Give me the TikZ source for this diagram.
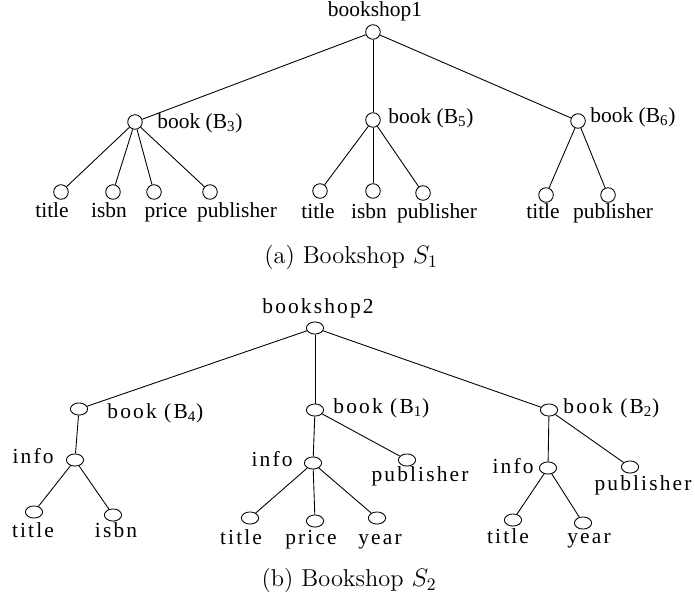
\documentclass[tikz,border=0pt]{standalone}
\usepackage{fontspec}
\usetikzlibrary{calc,shapes.geometric}
\newfontfamily\treefont{Liberation Serif}
\newfontfamily\widefont[LetterSpace=10]{Liberation Serif}

\begin{document}
\begin{tikzpicture}[x=0.02cm,y=-0.02cm,line width=0.5pt,
    leaf/.style={circle,draw,inner sep=0pt,minimum size=8.3pt},
    oval/.style={ellipse,draw,inner sep=0pt,minimum width=9.8pt,minimum height=6.9pt},
    tag/.style={inner sep=0pt,anchor=mid,font=\treefont\fontsize{12.2}{14}\selectfont},
    wtag/.style={inner sep=0pt,anchor=mid,font=\widefont\fontsize{12.2}{14}\selectfont},
    capt/.style={inner sep=0pt,anchor=mid,font=\fontsize{13.9}{16}\selectfont}]

    \useasboundingbox (0,0) rectangle (695,601);

    % (a) bookshop 1
    \node (1) [leaf] at (373,32) {};
    \node (2) [leaf] at ($(1)+(-238,90)$) {};
    \node (3) [leaf] at ($(1)+(0,88)$) {};
    \node (4) [leaf] at ($(1)+(205,89)$) {};

    \node (5) [leaf] at ($(2)+(-74,70)$) {};
    \node (6) [leaf] at ($(2)+(-22,70)$) {};
    \node (7) [leaf] at ($(2)+(19,70)$) {};
    \node (8) [leaf] at ($(2)+(75,70)$) {};

    \node (9) [leaf] at ($(3)+(-53,71)$) {};
    \node (10) [leaf] at ($(3)+(0,71)$) {};
    \node (11) [leaf] at ($(3)+(50,73)$) {};

    \node (12) [leaf] at ($(4)+(-32,74)$) {};
    \node (13) [leaf] at ($(4)+(30,74)$) {};

    \node (t1) [tag] at (375,13) {bookshop1};
    \node (t2) [tag,anchor=mid west] at (157,125) {book (B\textsubscript{3})};
    \node (t3) [tag,anchor=mid west] at (388,120) {book (B\textsubscript{5})};
    \node (t4) [tag,anchor=mid west] at (590,119) {book (B\textsubscript{6})};
    \node (t5) [tag] at (52,214) {title};
    \node (t6) [tag] at (109,214) {isbn};
    \node (t7) [tag] at (166,214) {price};
    \node (t8) [tag] at (237,214) {publisher};
    \node (t9) [tag] at (318,215) {title};
    \node (t10) [tag] at (369,215) {isbn};
    \node (t11) [tag] at (437,215) {publisher};
    \node (t12) [tag] at (543,215) {title};
    \node (t13) [tag] at (613,215) {publisher};

    \node (ca) [capt] at (351,260) {(a) Bookshop $S_1$};

    \path
        (1) edge (2)
        (1) edge (3)
        (1) edge (4)

        (2) edge (5)
        (2) edge (6)
        (2) edge (7)
        (2) edge (8)

        (3) edge (9)
        (3) edge (10)
        (3) edge (11)

        (4) edge (12)
        (4) edge (13)
    ;

    % (b) bookshop 2
    \node (21) [oval] at (315,328) {};
    \node (22) [oval] at ($(21)+(-236,81)$) {};
    \node (23) [oval] at ($(21)+(0,82)$) {};
    \node (24) [oval] at ($(21)+(234,82)$) {};

    \node (25) [oval] at ($(22)+(-4,51)$) {};
    \node (26) [oval] at ($(25)+(-41,52)$) {};
    \node (27) [oval] at ($(25)+(38,55)$) {};

    \node (28) [oval] at ($(23)+(-2,53)$) {};
    \node (29) [oval] at ($(23)+(92,50)$) {};
    \node (30) [oval] at ($(28)+(-63,55)$) {};
    \node (31) [oval] at ($(28)+(2,58)$) {};
    \node (32) [oval] at ($(28)+(64,55)$) {};

    \node (33) [oval] at ($(24)+(-1,58)$) {};
    \node (34) [oval] at ($(24)+(81,57)$) {};
    \node (35) [oval] at ($(33)+(-35,52)$) {};
    \node (36) [oval] at ($(33)+(35,55)$) {};

    \node (s21) [wtag] at (318,310) {bookshop2};
    \node (s22) [wtag,anchor=mid west] at (107,415) {book (B\textsubscript{4})};
    \node (s23) [wtag,anchor=mid west] at (333,410) {book (B\textsubscript{1})};
    \node (s24) [wtag,anchor=mid west] at (563,410) {book (B\textsubscript{2})};
    \node (s25) [wtag,anchor=mid east] at (54,460) {info};
    \node (s26) [wtag] at (33,534) {title};
    \node (s27) [wtag] at (116,534) {isbn};
    \node (s28) [wtag,anchor=mid east] at (293,463) {info};
    \node (s29) [wtag] at (420,478) {publisher};
    \node (s30) [wtag] at (241,541) {title};
    \node (s31) [wtag] at (311,541) {price};
    \node (s32) [wtag] at (380,541) {year};
    \node (s33) [wtag,anchor=mid east] at (534,470) {info};
    \node (s34) [wtag] at (643,487) {publisher};
    \node (s35) [wtag] at (508,540) {title};
    \node (s36) [wtag] at (589,540) {year};

    \node (cb) [capt] at (349,583) {(b) Bookshop $S_2$};

    \path
        (21) edge (22)
        (21) edge (23)
        (21) edge (24)

        (22) edge (25)
        (25) edge (26)
        (25) edge (27)

        (23) edge (28)
        (23) edge (29)
        (28) edge (30)
        (28) edge (31)
        (28) edge (32)

        (24) edge (33)
        (24) edge (34)
        (33) edge (35)
        (33) edge (36)
    ;
\end{tikzpicture}
\end{document}
